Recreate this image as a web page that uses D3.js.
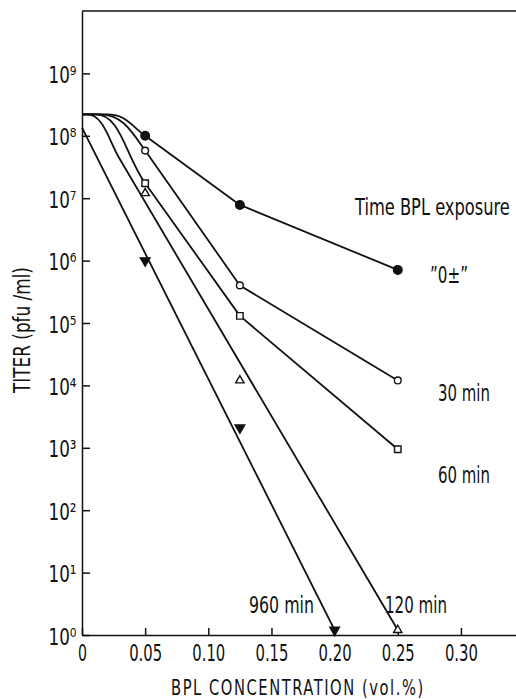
<!DOCTYPE html>
<html><head><meta charset="utf-8">
<script src="https://cdn.jsdelivr.net/npm/d3@7"></script>
<style>
body{margin:0;background:#fff}
svg{display:block}
text{font-family:"DejaVu Sans Condensed","DejaVu Sans",sans-serif;fill:#111}
</style>
</head><body>
<svg id="c" width="516" height="699"></svg>
<script>
// ---------- data ----------
const xTicks = [0, 0.05, 0.10, 0.15, 0.20, 0.25, 0.30];
const xTickLabels = ["0", "0.05", "0.10", "0.15", "0.20", "0.25", "0.30"];
const yTickExponents = [0, 1, 2, 3, 4, 5, 6, 7, 8, 9];
const superDigits = ["\u2070", "\u00B9", "\u00B2", "\u00B3", "\u2074", "\u2075", "\u2076", "\u2077", "\u2078", "\u2079"];

const plateauTiter = 2.2e8;           // initial titer (shoulder level)

const conc0 = [0.05, 0.125, 0.25];
const titer0 = [1.0e8, 7.8e6, 7.1e5];          // "0±"
const conc30 = [0.05, 0.125, 0.25];
const titer30 = [5.8e7, 4.0e5, 1.2e4];         // 30 min
const conc60 = [0.05, 0.125, 0.25];
const titer60 = [1.74e7, 1.3e5, 9.5e2];        // 60 min
const conc120 = [0.05, 0.125, 0.25];
const titer120 = [1.2e7, 1.2e4, 1.2];          // 120 min
const conc960 = [0.05, 0.125, 0.20];
const titer960 = [1.0e6, 2.1e3, 1.2];          // 960 min

// fitted curves (nodes)
const fitDepart0 = 0.020, fitDepart30 = 0.014, fitDepart60 = 0.011, fitDepart120 = 0.004;
const fitConc120 = [0.03, 0.25];
const fitTiter120 = [4.2e7, 1.2];
const fitConc960 = [0, 0.20];
const fitTiter960 = [1.35e8, 1.2];

const legendTitle = "Time  BPL exposure";
const seriesLabels = ["\u201D0\u00B1\u201D", "30 min", "60 min", "120 min", "960 min"];

// ---------- layout ----------
const svg = d3.select("#c");
const x = d3.scaleLinear().domain([0, 0.3436]).range([82, 516]);
const y = d3.scaleLog().domain([1, 1e10]).range([635, 11]);
const zip = (a, b) => a.map((d, i) => [d, b[i]]);

// horizontally condense a text node to a target width (the original uses a narrow face)
function condense(node, px, py, target, pre = "") {
  const t = d3.select(node);
  t.attr("x", 0).attr("y", 0);
  const w = node.getComputedTextLength();
  t.attr("transform", `translate(${px},${py}) ${pre} scale(${target / w},1)`);
}

// frame top
svg.append("line").attr("x1", x(0)).attr("x2", x.range()[1])
  .attr("y1", y(1e10)).attr("y2", y(1e10))
  .attr("stroke", "#111").attr("stroke-width", 1.3);

// y axis
const gy = svg.append("g").attr("transform", `translate(${x(0)},0)`)
  .call(d3.axisLeft(y).tickValues(yTickExponents.map(e => Math.pow(10, e)))
    .tickSize(-8).tickSizeOuter(0).tickFormat(() => ""));
gy.selectAll("path,line").attr("stroke", "#111").attr("stroke-width", 1.5);

svg.append("g").selectAll("text").data(yTickExponents).join("text")
  .attr("font-size", 23).text(e => "10" + superDigits[e])
  .each(function (e) { condense(this, 48.5, y(Math.pow(10, e)) + 9.5, 28); });

// x axis
const gx = svg.append("g").attr("transform", `translate(0,${y(1)})`)
  .call(d3.axisBottom(x).tickValues(xTicks).tickSize(-7).tickSizeOuter(0)
    .tickPadding(10).tickFormat((d, i) => xTickLabels[i]));
gx.selectAll("path,line").attr("stroke", "#111").attr("stroke-width", 1.5);
gx.selectAll("text").attr("font-size", 23).attr("fill", "#111")
  .style("font-family", '"DejaVu Sans Condensed","DejaVu Sans",sans-serif')
  .each(function (d, i) {
    const w = this.getComputedTextLength();
    const target = xTickLabels[i].length > 1 ? 33 : 9;
    d3.select(this).attr("transform", `scale(${target / w},1)`);
  });

// axis titles
svg.append("text").attr("font-size", 21).attr("letter-spacing", 2)
  .text("BPL  CONCENTRATION  (vol.%)")
  .each(function () { condense(this, 171, 695, 254); });
svg.append("text").attr("text-anchor", "middle").attr("font-size", 23)
  .text("TITER (pfu /ml)")
  .each(function () { condense(this, 30, 330, 126, "rotate(-90)"); });

// ---------- fitted lines ----------
function fitPath(depart, nodes) {
  const p = d3.path();
  const V = nodes.map(([c, t]) => [x(c), y(t)]);
  if (depart == null) {
    p.moveTo(V[0][0], V[0][1]);
    V.slice(1).forEach(v => p.lineTo(v[0], v[1]));
    return p.toString();
  }
  const D = [x(depart), y(plateauTiter)];
  p.moveTo(x(0), y(plateauTiter));
  p.lineTo(D[0], D[1]);
  const v1 = V[0], v2 = V[1];
  const dist = Math.hypot(v1[0] - D[0], v1[1] - D[1]);
  const ux = v2[0] - v1[0], uy = v2[1] - v1[1], ul = Math.hypot(ux, uy);
  const c1 = [D[0] + 0.5 * (v1[0] - D[0]), D[1]];
  const c2 = [v1[0] - 0.4 * dist * ux / ul, v1[1] - 0.4 * dist * uy / ul];
  p.bezierCurveTo(c1[0], c1[1], c2[0], c2[1], v1[0], v1[1]);
  V.slice(1).forEach(v => p.lineTo(v[0], v[1]));
  return p.toString();
}

const fits = [
  fitPath(fitDepart0, zip(conc0, titer0)),
  fitPath(fitDepart30, zip(conc30, titer30)),
  fitPath(fitDepart60, zip(conc60, titer60)),
  fitPath(fitDepart120, zip(fitConc120, fitTiter120)),
  fitPath(null, zip(fitConc960, fitTiter960))
];
svg.append("g").selectAll("path").data(fits).join("path")
  .attr("d", d => d).attr("fill", "none").attr("stroke", "#111")
  .attr("stroke-width", 1.8).attr("stroke-linejoin", "round");

// ---------- markers ----------
const series = [
  {pts: zip(conc0, titer0), type: d3.symbolCircle, size: 58, fill: "#111", rot: 0},
  {pts: zip(conc30, titer30), type: d3.symbolCircle, size: 36, fill: "#fff", rot: 0},
  {pts: zip(conc60, titer60), type: d3.symbolSquare, size: 42, fill: "#fff", rot: 0},
  {pts: zip(conc120, titer120), type: d3.symbolTriangle, size: 30, fill: "#fff", rot: 0},
  {pts: zip(conc960, titer960), type: d3.symbolTriangle, size: 40, fill: "#111", rot: 180}
];
series.forEach(s => {
  svg.append("g").selectAll("path").data(s.pts).join("path")
    .attr("transform", d => `translate(${x(d[0])},${y(d[1])}) rotate(${s.rot})`)
    .attr("d", d3.symbol().type(s.type).size(s.size)())
    .attr("fill", s.fill).attr("stroke", "#111").attr("stroke-width", 1.4);
});

// ---------- labels ----------
svg.append("text").attr("font-size", 22.5).text(legendTitle)
  .each(function () { condense(this, 355, 215, 155); });
const labelPos = [[430, 283], [438, 401], [438, 483], [385, 613], [249, 613]];
const labelLen = [38, 52, 52, 62, 65];
svg.append("g").selectAll("text").data(seriesLabels).join("text")
  .attr("font-size", 23).text(d => d)
  .each(function (d, i) { condense(this, labelPos[i][0], labelPos[i][1], labelLen[i]); });
</script>
</body></html>
